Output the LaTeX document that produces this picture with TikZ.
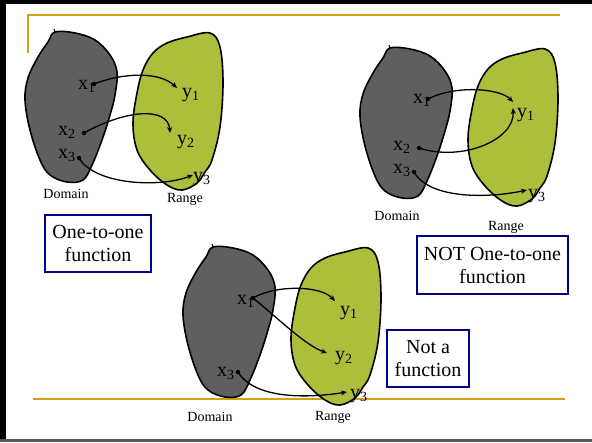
\documentclass[tikz,border=0pt]{standalone}
\usepackage{fontspec}
\setmainfont{Liberation Serif}
\usetikzlibrary{arrows.meta}
\definecolor{domfill}{HTML}{5F5F5F}
\definecolor{rngfill}{HTML}{ADBE3B}
\definecolor{gold}{HTML}{D4A017}
\definecolor{navy}{HTML}{00008B}
\tikzset{
  blob/.style={draw=black,line width=1.6pt},
  dom/.style={blob,fill=domfill},
  rng/.style={blob,fill=rngfill},
  lbl/.style={inner sep=0pt,anchor=base west,font=\fontsize{20}{23}\selectfont},
  setname/.style={inner sep=0pt,font=\fontsize{14}{16}\selectfont},
  dotnode/.style={circle,fill=black,inner sep=0pt,minimum size=4.5pt},
  maparrow/.style={line width=1.3pt,-{Stealth[length=6pt,width=5pt]}},
  tagbox/.style={draw=navy,line width=2pt,align=center,inner sep=0pt,
    font=\fontsize{20}{23}\selectfont}
}
\newcommand{\domshape}{plot[smooth cycle,tension=0.6] coordinates{
 (55,32) (75,33) (95,40) (110,55) (117,72) (115,95) (110,115) (102,140)
 (92,165) (83,180) (67,182) (50,175) (40,160) (30,130) (25,100) (28,78)
 (38,57) (48,42)}}
\newcommand{\rngshape}{plot[smooth cycle,tension=0.6] coordinates{
 (187,37) (210,33) (220,47) (223,83) (220,127) (212,160) (205,172)
 (197,183) (182,190) (167,185) (150,170) (137,150) (133,123) (137,93)
 (143,70) (153,53) (167,43)}}
\begin{document}
\begin{tikzpicture}[x=1pt,y=-1pt]
\useasboundingbox (0,0) rectangle (592,442);
\fill[white] (0,0) rectangle (592,442);
% gold rules
\draw[gold,line width=1.2pt] (28,53) -- (28,15) -- (560,15);
\draw[gold,line width=1.2pt] (33,399) -- (565,399);

% ---------- group 1 ----------
\draw[dom] \domshape;
\draw[line width=1pt] (55,32) -- (54,29);
\draw[rng] \rngshape;
\node[lbl] (g1x1) at (78,89) {x\textsubscript{1}};
\node[lbl] (g1y1) at (182,97) {y\textsubscript{1}};
\node[lbl] (g1x2) at (58,135) {x\textsubscript{2}};
\node[lbl] (g1y2) at (177,144) {y\textsubscript{2}};
\node[lbl] (g1x3) at (58,158) {x\textsubscript{3}};
\node[lbl] (g1y3) at (193,181) {y\textsubscript{3}};
\node[dotnode] (g1d1) at (94,84) {};
\node[dotnode] (g1d2) at (84,133) {};
\node[dotnode] (g1d3) at (79,158) {};
\coordinate (g1t1) at (177,88);
\coordinate (g1t2) at (170,133);
\coordinate (g1t3) at (193,175);
\draw[maparrow] (g1d1.center) .. controls (125,72) and (160,72) .. (g1t1);
\draw[maparrow] (g1d2.center) .. controls (125,110) and (168,106) .. (g1t2);
\draw[maparrow] (g1d3.center) .. controls (95,185) and (160,188) .. (g1t3);
\node[setname] (g1dom) at (66,194) {Domain};
\node[setname] (g1rng) at (185,199) {Range};
\node[tagbox,minimum width=106pt,minimum height=57pt] (box1) at (98,243.5) {One-to-one\\function};

% ---------- group 2 ----------
\begin{scope}[shift={(335,16)}]
\draw[dom] \domshape;
\draw[line width=1pt] (55,32) -- (54,29);
\draw[rng] \rngshape;
\end{scope}
\node[lbl] (g2x1) at (413,103) {x\textsubscript{1}};
\node[lbl] (g2y1) at (517,117) {y\textsubscript{1}};
\node[lbl] (g2x2) at (393,150) {x\textsubscript{2}};
\node[lbl] (g2x3) at (393,173) {x\textsubscript{3}};
\node[lbl] (g2y3) at (528,198) {y\textsubscript{3}};
\node[dotnode] (g2d1) at (428,99) {};
\node[dotnode] (g2d2) at (419,148) {};
\node[dotnode] (g2d3) at (414,172) {};
\coordinate (g2t1) at (513,102);
\coordinate (g2t2) at (513,108);
\coordinate (g2t3) at (527,190);
\draw[maparrow] (g2d1.center) .. controls (455,85) and (500,88) .. (g2t1);
\draw[maparrow] (g2d2.center) .. controls (462,162) and (515,140) .. (g2t2);
\draw[maparrow] (g2d3.center) .. controls (430,200) and (490,198) .. (g2t3);
\node[setname] (g2dom) at (397,216) {Domain};
\node[setname] (g2rng) at (506,227) {Range};
\node[tagbox,minimum width=151pt,minimum height=58pt] (box2) at (492.5,265) {NOT One-to-one\\function};

% ---------- group 3 ----------
\begin{scope}[shift={(158,215)}]
\draw[dom] \domshape;
\draw[line width=1pt] (55,32) -- (54,29);
\draw[rng] \rngshape;
\end{scope}
\node[lbl] (g3x1) at (237,304) {x\textsubscript{1}};
\node[lbl] (g3y1) at (340,315) {y\textsubscript{1}};
\node[lbl] (g3y2) at (335,360) {y\textsubscript{2}};
\node[lbl] (g3x3) at (217,376) {x\textsubscript{3}};
\node[lbl] (g3y3) at (350,398) {y\textsubscript{3}};
\node[dotnode] (g3d1) at (253,298) {};
\node[dotnode] (g3d3) at (238,372) {};
\coordinate (g3t1) at (335,301);
\coordinate (g3t2) at (327,353);
\coordinate (g3t3) at (347,392);
\draw[maparrow] (g3d1.center) .. controls (275,285) and (320,285) .. (g3t1);
\draw[maparrow] (g3d1.center) .. controls (280,320) and (305,345) .. (g3t2);
\draw[maparrow] (g3d3.center) .. controls (255,400) and (310,398) .. (g3t3);
\node[setname] (g3dom) at (210,417) {Domain};
\node[setname] (g3rng) at (333,417) {Range};
\node[tagbox,minimum width=82pt,minimum height=57pt] (box3) at (428,358.5) {Not a\\function};

% frame (drawn last)
\fill[black] (0,0) rectangle (592,3.5);
\fill[black] (0,0) rectangle (6,442);
\fill[black!65] (0,439) rectangle (592,442);
\end{tikzpicture}
\end{document}
